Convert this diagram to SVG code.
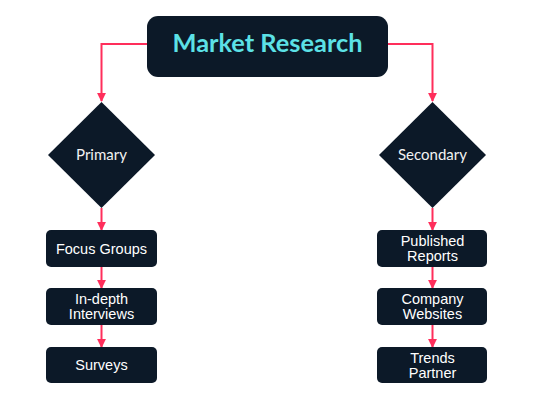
<svg xmlns="http://www.w3.org/2000/svg" width="534" height="400" viewBox="0 0 534 400">
<defs>
<style>
.node{fill:#0c1928;}
.lbl{fill:#ffffff;font-family:"Liberation Sans",Arial,sans-serif;font-size:14.5px;text-anchor:middle;}
.dlbl{fill:#f2f2f2;font-family:"Lato","Noto Sans",sans-serif;font-size:15px;text-anchor:middle;}
.title{fill:#5ce1e6;font-family:"Lato","Noto Sans",sans-serif;font-weight:bold;font-size:24px;text-anchor:middle;}
.edge{fill:none;stroke:#ff2e5b;stroke-width:2;marker-end:url(#ah);}
</style>
<marker id="ah" viewBox="0 0 10 10" refX="9" refY="5" markerWidth="4.5" markerHeight="4.5" orient="auto" markerUnits="strokeWidth">
<path d="M0,0 L10,5 L0,10 z" fill="#ff2e5b"/>
</marker>
</defs>
<rect width="534" height="400" fill="#ffffff"/>
<g id="connectors">
<path class="edge" d="M147,44 H101.5 V101"/>
<path class="edge" d="M388,44 H432.5 V101"/>
<path class="edge" d="M101.5,208 V230"/>
<path class="edge" d="M432.5,208 V230"/>
<path class="edge" d="M101.5,267 V288"/>
<path class="edge" d="M101.5,325 V347"/>
<path class="edge" d="M432.5,267 V288"/>
<path class="edge" d="M432.5,325 V347"/>
</g>
<g id="market-research">
<rect class="node" x="147" y="16" width="241" height="61" rx="11"/>
<text class="title" x="267.5" y="52" textLength="190" lengthAdjust="spacingAndGlyphs">Market Research</text>
</g>
<g id="primary">
<polygon class="node" points="101.5,102 155,155 101.5,208 48,155"/>
<text class="dlbl" x="101.5" y="159.5">Primary</text>
</g>
<g id="secondary">
<polygon class="node" points="432.5,102 486,155 432.5,208 379,155"/>
<text class="dlbl" x="432.5" y="159.5">Secondary</text>
</g>
<g id="focus-groups">
<rect class="node" x="46" y="230" width="111" height="37" rx="5"/>
<text class="lbl" x="101.5" y="253.5">Focus Groups</text>
</g>
<g id="in-depth-interviews">
<rect class="node" x="46" y="288" width="111" height="37" rx="5"/>
<text class="lbl" x="101.5" y="304">In-depth</text>
<text class="lbl" x="101.5" y="319">Interviews</text>
</g>
<g id="surveys">
<rect class="node" x="46" y="347" width="111" height="36" rx="5"/>
<text class="lbl" x="101.5" y="370">Surveys</text>
</g>
<g id="published-reports">
<rect class="node" x="377" y="230" width="110" height="37" rx="5"/>
<text class="lbl" x="432.5" y="246">Published</text>
<text class="lbl" x="432.5" y="261">Reports</text>
</g>
<g id="company-websites">
<rect class="node" x="377" y="288" width="110" height="37" rx="5"/>
<text class="lbl" x="432.5" y="304">Company</text>
<text class="lbl" x="432.5" y="319">Websites</text>
</g>
<g id="trends-partner">
<rect class="node" x="377" y="347" width="110" height="36" rx="5"/>
<text class="lbl" x="432.5" y="363">Trends</text>
<text class="lbl" x="432.5" y="378">Partner</text>
</g>
</svg>
